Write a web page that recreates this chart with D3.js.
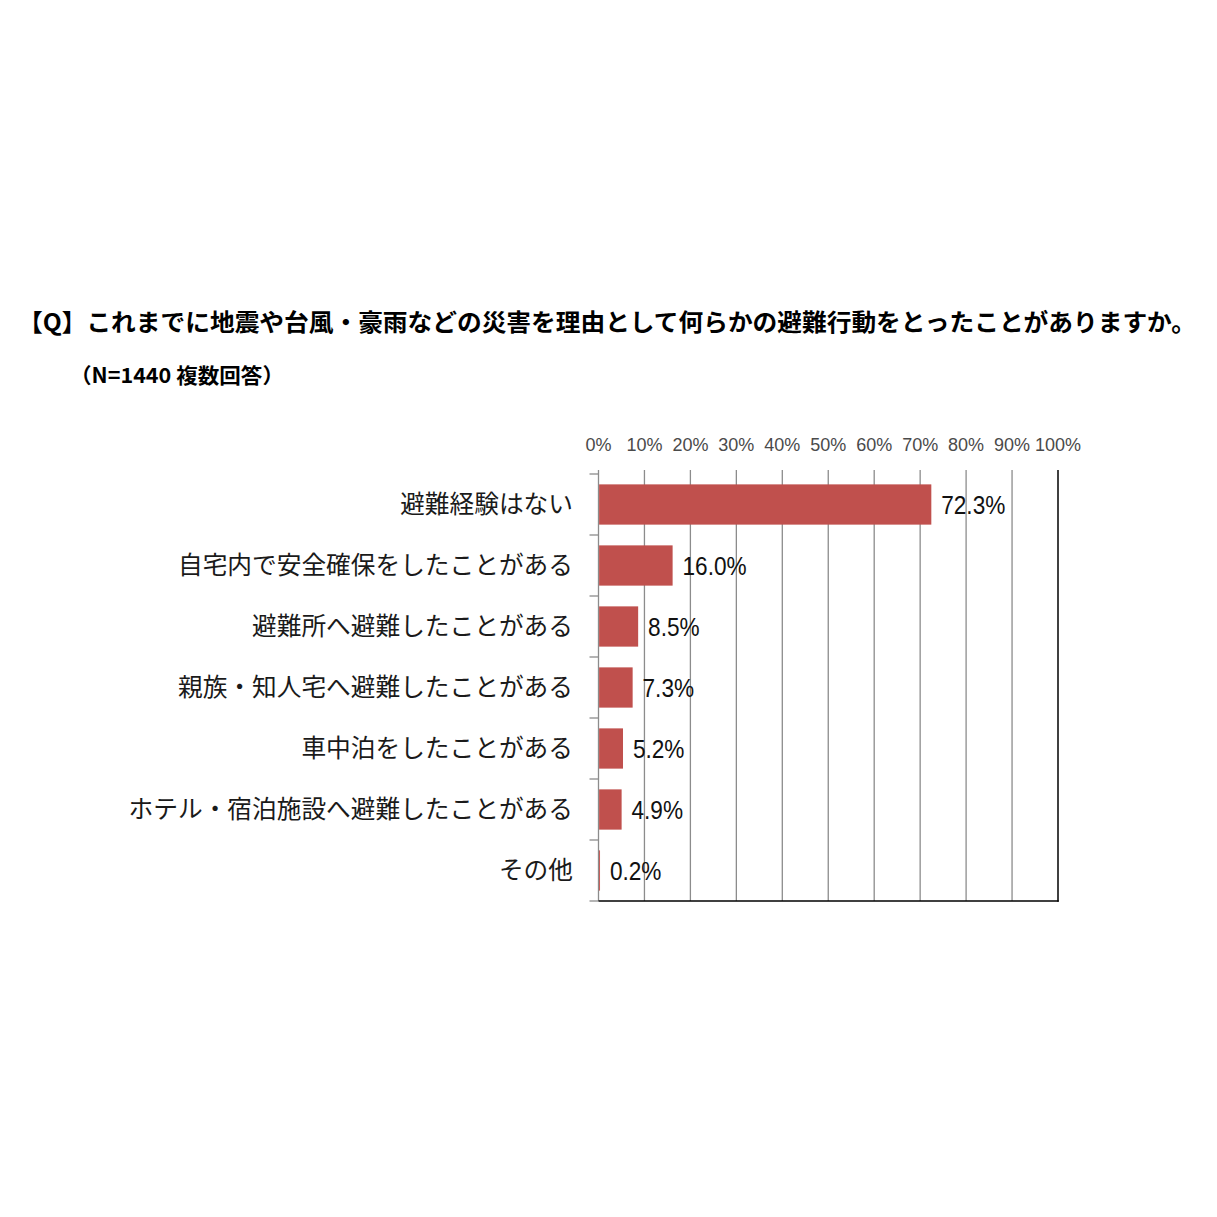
<!DOCTYPE html>
<html><head><meta charset="utf-8">
<script src="https://cdn.jsdelivr.net/npm/d3@7"></script>
<style>
html,body{margin:0;padding:0;background:#fff;}
svg{display:block;}
</style></head>
<body>
<svg id="chart" width="1217" height="1217"></svg>
<script>
const titleText = "【Q】これまでに地震や台風・豪雨などの災害を理由として何らかの避難行動をとったことがありますか。";
const subtitleText = "（N=1440 複数回答）";
const categories = [
  "避難経験はない",
  "自宅内で安全確保をしたことがある",
  "避難所へ避難したことがある",
  "親族・知人宅へ避難したことがある",
  "車中泊をしたことがある",
  "ホテル・宿泊施設へ避難したことがある",
  "その他"
];
const values = [72.3, 16.0, 8.5, 7.3, 5.2, 4.9, 0.2];
const tickValues = [0, 10, 20, 30, 40, 50, 60, 70, 80, 90, 100];

(function () {
const svg = d3.select("#chart");
const jp = "'Noto Sans CJK JP', 'Noto Sans', sans-serif";
const lat = "'Liberation Sans', Arial, sans-serif";

const pL = 598.5, pR = 1058, pT = 474, pB = 901;
const x = d3.scaleLinear().domain([0, 100]).range([pL, pR]);
const y = d3.scaleBand().domain(categories).range([pT, pB]).padding(0);
const barH = y.bandwidth() * 0.66;

// Title
svg.append("text").attr("x", 18).attr("y", 331)
  .attr("font-family", jp).attr("font-weight", 700).attr("font-size", 24)
  .attr("fill", "#000").attr("textLength", 1178).attr("lengthAdjust", "spacingAndGlyphs")
  .text(titleText);
svg.append("text").attr("x", 70).attr("y", 383)
  .attr("font-family", jp).attr("font-weight", 700).attr("font-size", 21)
  .attr("fill", "#000").attr("textLength", 214).attr("lengthAdjust", "spacingAndGlyphs")
  .text(subtitleText);

// Gridlines
svg.append("g").selectAll("line").data(tickValues.slice(1, -1)).join("line")
  .attr("x1", d => x(d)).attr("x2", d => x(d))
  .attr("y1", pT - 4).attr("y2", pB)
  .attr("stroke", "#8c8c8c").attr("stroke-width", 1.3);

// Top axis tick labels
svg.append("g").selectAll("text").data(tickValues).join("text")
  .attr("x", d => x(d)).attr("y", 451)
  .attr("text-anchor", "middle")
  .attr("font-family", lat).attr("font-size", 18).attr("fill", "#4a4a4a")
  .text(d => d + "%");

// Left axis with ticks at band boundaries
const bounds = categories.map(c => y(c)).concat([pB]);
svg.append("line").attr("x1", pL).attr("x2", pL).attr("y1", pT - 4).attr("y2", pB)
  .attr("stroke", "#8c8c8c").attr("stroke-width", 1.3);
svg.append("g").selectAll("line").data(bounds).join("line")
  .attr("x1", pL - 9).attr("x2", pL)
  .attr("y1", d => d).attr("y2", d => d)
  .attr("stroke", "#8c8c8c").attr("stroke-width", 1.3);

// Right and bottom borders
svg.append("line").attr("x1", pR).attr("x2", pR).attr("y1", pT - 4).attr("y2", pB + 0.7)
  .attr("stroke", "#000").attr("stroke-width", 1.5);
svg.append("line").attr("x1", pL).attr("x2", pR + 0.7).attr("y1", pB).attr("y2", pB)
  .attr("stroke", "#000").attr("stroke-width", 1.5);

// Bars
svg.append("g").selectAll("rect").data(values).join("rect")
  .attr("x", pL + 0.6)
  .attr("y", (d, i) => y(categories[i]) + (y.bandwidth() - barH) / 2)
  .attr("width", d => x(d) - x(0))
  .attr("height", barH)
  .attr("fill", "#C0504D");

// Category labels
svg.append("g").selectAll("text").data(categories).join("text")
  .attr("x", 573).attr("y", d => y(d) + y.bandwidth() / 2)
  .attr("dy", "0.36em")
  .attr("text-anchor", "end")
  .attr("font-family", jp).attr("font-size", 24.7).attr("fill", "#1a1a1a")
  .text(d => d);

// Value labels
svg.append("g").selectAll("text").data(values).join("text")
  .attr("transform", (d, i) => `translate(${x(d) + 10.5},${y(categories[i]) + y.bandwidth() / 2 + 9.5}) scale(0.87,1)`)
  .attr("font-family", lat).attr("font-size", 26).attr("fill", "#111")
  .text(d => d.toFixed(1) + "%");
})();
</script>
</body></html>
